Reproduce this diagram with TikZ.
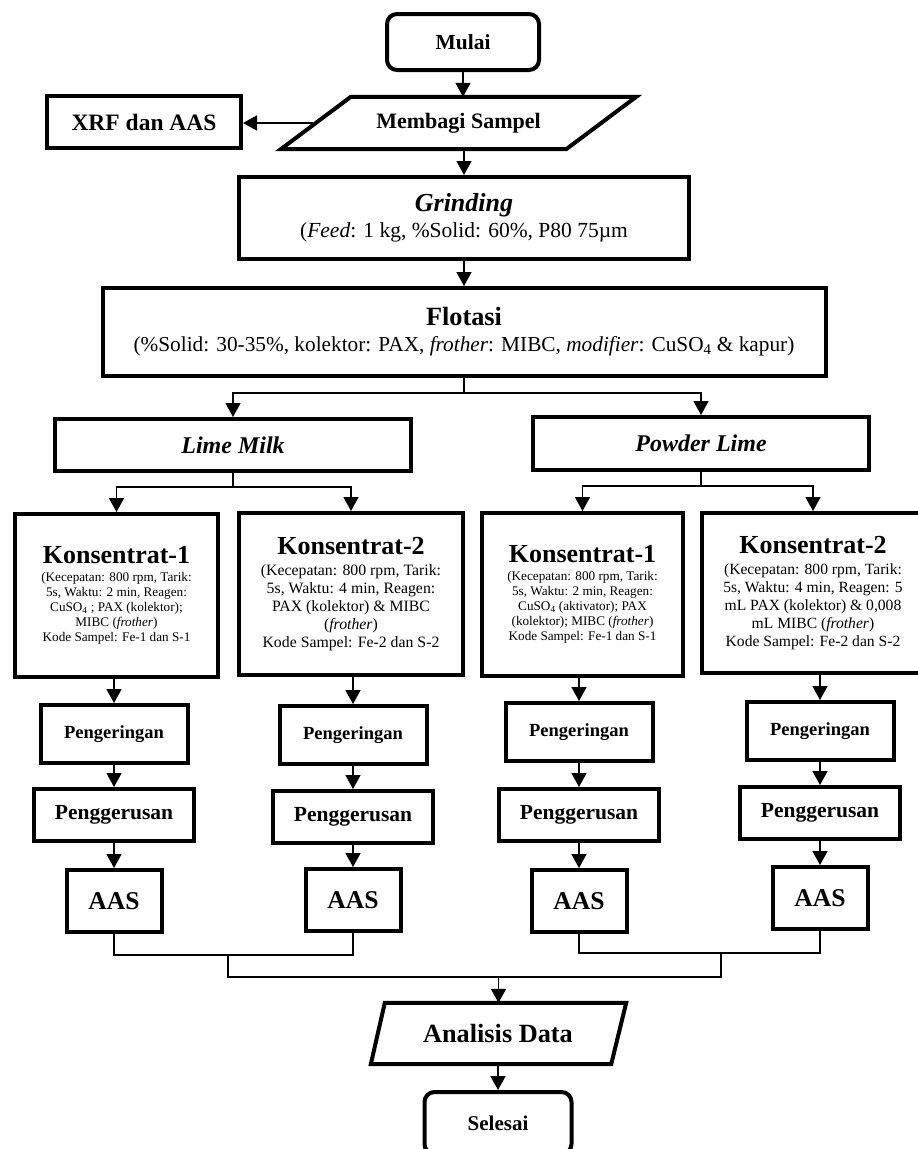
\documentclass[tikz,border=0pt]{standalone}
\usepackage{fontspec}
\setmainfont{Liberation Serif}
\usetikzlibrary{arrows.meta}

\begin{document}
\begin{tikzpicture}[x=1pt, y=-1pt,
  box/.style={draw, line width=4pt, rectangle, align=center, inner sep=2pt},
  term/.style={box, rounded corners=10pt},
  io/.style={rectangle, align=center, inner sep=2pt},
  ioline/.style={line width=4pt},
  line/.style={line width=1.6pt},
  arr/.style={line, -{Triangle[length=14pt,width=15pt]}}]
\useasboundingbox (0,0) rectangle (918,1149);
\clip (0,0) rectangle (918,1149);

% Start
\node[term, minimum width=152, minimum height=56, font=\fontsize{21.5}{25}\selectfont\bfseries] (mulai) at (463,42) {Mulai};
\node[io, minimum width=215, minimum height=52, font=\fontsize{22}{26}\selectfont\bfseries] (bagi) at (458.5,123) {Membagi Sampel};
\draw[ioline] (bagi.north west) -- ([xshift=70]bagi.north east) -- (bagi.south east) -- ([xshift=-70]bagi.south west) -- cycle;
\node[box, minimum width=194, minimum height=52, font=\fontsize{23.5}{27}\selectfont\bfseries] (xrf) at (144,122) {XRF dan AAS};

% Grinding and flotation
\node[box, minimum width=450, minimum height=82, font=\fontsize{21.5}{25}\selectfont] (grind) at (464,218) {{\fontsize{26}{28}\selectfont\bfseries\itshape Grinding}\\[1pt] (\textit{Feed}: 1 kg, \%Solid: 60\%, P80 75µm};
\node[box, minimum width=723, minimum height=88, font=\fontsize{21.3}{25}\selectfont] (flot) at (464,332) {{\fontsize{26.3}{28}\selectfont\bfseries Flotasi}\\[1pt] (\%Solid: 30-35\%, kolektor: PAX, \textit{frother}: MIBC, \textit{modifier}: CuSO\textsubscript{4} \& kapur)};

\draw[arr] (mulai.south) -- (mulai.south |- bagi.north);
\draw[arr] ([xshift=-38]bagi.west) -- (bagi.west -| xrf.east);
\draw[arr] (bagi.south -| grind.north) -- (grind.north);
\draw[arr] (grind.south) -- (flot.north);

% Lime types
\node[box, minimum width=356, minimum height=52, font=\fontsize{24}{28}\selectfont\bfseries\itshape] (lime) at (233,445) {Lime Milk};
\node[box, minimum width=336, minimum height=53, font=\fontsize{24}{28}\selectfont\bfseries\itshape] (powder) at (701,443.5) {Powder Lime};

\draw[line] (flot.south) -- ++(0,15) coordinate (fsplit);
\draw[arr] (fsplit) -| (lime.north);
\draw[arr] (fsplit) -| (powder.north);

% Concentrates
\node[box, minimum width=203, minimum height=163, font=\fontsize{13.2}{15}\selectfont] (kon1a) at (116.5,595.5) {{\fontsize{26}{28}\selectfont\bfseries Konsentrat-1}\\[3pt] (Kecepatan: 800 rpm, Tarik:\\ 5s, Waktu: 2 min, Reagen:\\ CuSO\textsubscript{4} ; PAX (kolektor);\\ MIBC (\textit{frother})\\ Kode Sampel: Fe-1 dan S-1};
\node[box, minimum width=224, minimum height=162, font=\fontsize{15.8}{18}\selectfont] (kon2a) at (351,594) {{\fontsize{26}{28}\selectfont\bfseries Konsentrat-2}\\[3pt] (Kecepatan: 800 rpm, Tarik:\\ 5s, Waktu: 4 min, Reagen:\\ PAX (kolektor) \& MIBC\\ (\textit{frother})\\ Kode Sampel: Fe-2 dan S-2};
\node[box, minimum width=201, minimum height=163, font=\fontsize{13.2}{15}\selectfont] (kon1b) at (582.5,594.5) {{\fontsize{26}{28}\selectfont\bfseries Konsentrat-1}\\[3pt] (Kecepatan: 800 rpm, Tarik:\\ 5s, Waktu: 2 min, Reagen:\\ CuSO\textsubscript{4} (aktivator); PAX\\ (kolektor); MIBC (\textit{frother})\\ Kode Sampel: Fe-1 dan S-1};
\node[box, minimum width=222, minimum height=160, font=\fontsize{15.6}{18}\selectfont] (kon2b) at (813,593) {{\fontsize{26}{28}\selectfont\bfseries Konsentrat-2}\\[3pt] (Kecepatan: 800 rpm, Tarik:\\ 5s, Waktu: 4 min, Reagen: 5\\ mL PAX (kolektor) \& 0,008\\ mL MIBC (\textit{frother})\\ Kode Sampel: Fe-2 dan S-2};

\draw[arr] (lime.south) -- ++(0,14) -| (kon1a.north);
\draw[arr] (lime.south) -- ++(0,14) -| (kon2a.north);
\draw[arr] (powder.south) -- ++(0,14) -| (kon1b.north);
\draw[arr] (powder.south) -- ++(0,14) -| (kon2b.north);

% Drying
\node[box, minimum width=147, minimum height=58, font=\fontsize{18.5}{22}\selectfont\bfseries] (ker1) at (114,734) {Pengeringan};
\node[box, minimum width=147, minimum height=58, font=\fontsize{18.5}{22}\selectfont\bfseries] (ker2) at (353,735) {Pengeringan};
\node[box, minimum width=147, minimum height=58, font=\fontsize{18.5}{22}\selectfont\bfseries] (ker3) at (579,732) {Pengeringan};
\node[box, minimum width=147, minimum height=58, font=\fontsize{18.5}{22}\selectfont\bfseries] (ker4) at (820,731) {Pengeringan};

\draw[arr] (kon1a.south -| ker1.north) -- (ker1.north);
\draw[arr] (kon2a.south -| ker2.north) -- (ker2.north);
\draw[arr] (kon1b.south -| ker3.north) -- (ker3.north);
\draw[arr] (kon2b.south -| ker4.north) -- (ker4.north);

% Crushing
\node[box, minimum width=160, minimum height=52, font=\fontsize{21.5}{25}\selectfont\bfseries] (gerus1) at (114,815) {Penggerusan};
\node[box, minimum width=160, minimum height=52, font=\fontsize{21.5}{25}\selectfont\bfseries] (gerus2) at (353,817) {Penggerusan};
\node[box, minimum width=160, minimum height=52, font=\fontsize{21.5}{25}\selectfont\bfseries] (gerus3) at (579,815) {Penggerusan};
\node[box, minimum width=160, minimum height=52, font=\fontsize{21.5}{25}\selectfont\bfseries] (gerus4) at (820,813) {Penggerusan};

\draw[arr] (ker1.south) -- (gerus1.north);
\draw[arr] (ker2.south) -- (gerus2.north);
\draw[arr] (ker3.south) -- (gerus3.north);
\draw[arr] (ker4.south) -- (gerus4.north);

% AAS
\node[box, minimum width=95, minimum height=62, font=\fontsize{25.6}{28}\selectfont\bfseries] (aas1) at (114,901) {AAS};
\node[box, minimum width=95, minimum height=62, font=\fontsize{25.6}{28}\selectfont\bfseries] (aas2) at (353,900) {AAS};
\node[box, minimum width=95, minimum height=62, font=\fontsize{25.6}{28}\selectfont\bfseries] (aas3) at (579,901) {AAS};
\node[box, minimum width=95, minimum height=62, font=\fontsize{25.6}{28}\selectfont\bfseries] (aas4) at (820,898) {AAS};

\draw[arr] (gerus1.south) -- (aas1.north);
\draw[arr] (gerus2.south) -- (aas2.north);
\draw[arr] (gerus3.south) -- (aas3.north);
\draw[arr] (gerus4.south) -- (aas4.north);

% Merge
\coordinate (jl) at (228,955);
\coordinate (jr) at (721,953);
\coordinate (jm) at (498.5,977);
\draw[line] (aas1.south) |- (jl) -| (aas2.south);
\draw[line] (aas3.south) |- (jr) -| (aas4.south);
\draw[line] (jl) |- (jm) -| (jr);

% End
\node[io, minimum width=226, minimum height=61, font=\fontsize{26.3}{28}\selectfont\bfseries] (data) at (498,1033.5) {Analisis Data};
\draw[ioline] (data.north west) -- ([xshift=15]data.north east) -- (data.south east) -- ([xshift=-14]data.south west) -- cycle;
\node[term, minimum width=147, minimum height=62, font=\fontsize{21}{25}\selectfont\bfseries] (selesai) at (498,1123) {Selesai};

\draw[arr] (jm) -- (jm |- data.north);
\draw[arr] (data.south) -- (selesai.north);
\end{tikzpicture}
\end{document}
